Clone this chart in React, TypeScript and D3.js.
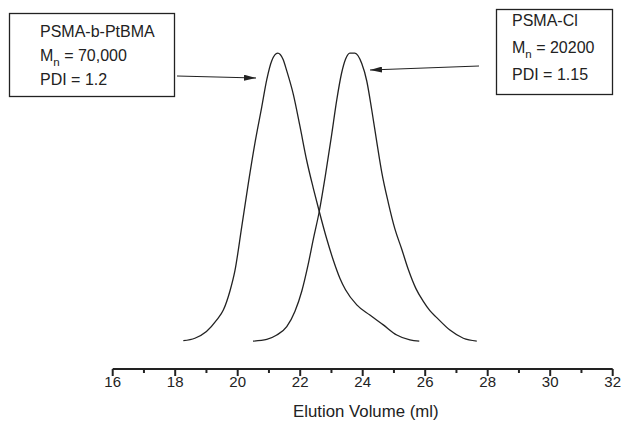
import React from 'react'
import * as d3 from 'd3'

// elution volume (ml) and detector response (arbitrary, peak ~100)
const blockVolume = [18.26, 18.63, 19.0, 19.33, 19.54, 19.75, 19.91, 20.13, 20.34, 20.55, 20.77, 20.93, 21.09, 21.28, 21.45, 21.57, 21.78, 21.99, 22.21, 22.42, 22.61, 22.85, 23.06, 23.27, 23.45, 23.81, 24.23, 24.66, 25.09, 25.51, 25.81]
const blockSignal = [0.45, 1.3, 3.6, 7.6, 11.0, 17.5, 24.5, 39.8, 54.7, 68.5, 81.1, 90.5, 97.0, 99.6, 97.5, 93.5, 85.4, 74.5, 62.5, 53, 45, 35.5, 28.2, 22, 18, 12.8, 9.3, 5.9, 2.4, 0.7, 0.3]

const macroVolume = [20.49, 20.93, 21.25, 21.57, 21.83, 22.05, 22.25, 22.42, 22.61, 22.8, 23.0, 23.17, 23.32, 23.45, 23.59, 23.75, 23.97, 24.13, 24.29, 24.45, 24.61, 24.82, 25.03, 25.25, 25.46, 25.7, 25.94, 26.15, 26.37, 26.79, 27.22, 27.65]
const macroSignal = [0.3, 0.9, 2.4, 5.3, 10.5, 17.5, 26.5, 35.5, 45, 57, 71, 83.5, 92.5, 97.5, 99.6, 99.6, 96, 90, 80, 69, 58.5, 48, 39, 32, 25, 18.5, 14, 10.8, 8.4, 4.1, 1.3, 0.3]

const majorTicks = [16, 18, 20, 22, 24, 26, 28, 30, 32]
const minorTicks = [17, 19, 21, 23, 25, 27, 29, 31]

const blockLabel = ['PSMA-b-PtBMA', '70,000', 'PDI = 1.2']
const macroLabel = ['PSMA-Cl', '20200', 'PDI = 1.15']

const W = 634
const H = 422
const font = '"Liberation Sans", Arial, sans-serif'
const ink = '#222'

export default function App() {
  const x = d3.scaleLinear().domain([16, 32]).range([112.7, 612.7])
  const y = d3.scaleLinear().domain([0, 100]).range([342, 52])
  const axisY = 369

  const line = d3.line<[number, number]>()
    .x(d => x(d[0]))
    .y(d => y(d[1]))
    .curve(d3.curveMonotoneX)

  const blockPts = blockVolume.map((v, i) => [v, blockSignal[i]] as [number, number])
  const macroPts = macroVolume.map((v, i) => [v, macroSignal[i]] as [number, number])

  const label = (lines: string[], tx: number, base: number[]) => (
    <g fill={ink} fontFamily={font} fontSize={16}>
      <text x={tx} y={base[0]}>{lines[0]}</text>
      <text x={tx} y={base[1]}>
        M<tspan fontSize={11.5} dy={4.5}>n</tspan><tspan dy={-4.5}> = {lines[1]}</tspan>
      </text>
      <text x={tx} y={base[2]}>{lines[2]}</text>
    </g>
  )

  return (
    <svg width={W} height={H} style={{ position: 'absolute', left: 0, top: 0, background: '#fff' }}>
      <defs>
        <marker id="arr" viewBox="0 0 12 6" refX="12" refY="3" markerWidth="12" markerHeight="6"
          markerUnits="userSpaceOnUse" orient="auto">
          <path d="M0,0 L12,3 L0,6 Z" fill={ink} />
        </marker>
      </defs>

      <path d={line(blockPts) || ''} fill="none" stroke={ink} strokeWidth={1.3} />
      <path d={line(macroPts) || ''} fill="none" stroke={ink} strokeWidth={1.3} />

      {/* x axis */}
      <line x1={x(16)} x2={x(32)} y1={axisY} y2={axisY} stroke={ink} strokeWidth={2.2} />
      {majorTicks.map(t => (
        <g key={t}>
          <line x1={x(t)} x2={x(t)} y1={axisY} y2={axisY + 7} stroke={ink} strokeWidth={2} />
          <text x={x(t)} y={387} textAnchor="middle" fontFamily={font} fontSize={15} fill={ink}>{t}</text>
        </g>
      ))}
      {minorTicks.map(t => (
        <line key={t} x1={x(t)} x2={x(t)} y1={axisY} y2={axisY + 4} stroke={ink} strokeWidth={2} />
      ))}
      <text x={x(24.1)} y={417} textAnchor="middle" fontFamily={font} fontSize={16.8} fill={ink}>Elution Volume (ml)</text>

      {/* annotation boxes */}
      <rect x={9.5} y={13.5} width={165} height={83} fill="none" stroke={ink} strokeWidth={1.3} />
      {label(blockLabel, 40, [37, 61, 85])}
      <line x1={177} y1={76} x2={256} y2={78} stroke={ink} strokeWidth={1.2} markerEnd="url(#arr)" />

      <rect x={496.5} y={9.5} width={116} height={85} fill="none" stroke={ink} strokeWidth={1.3} />
      {label(macroLabel, 512, [26, 53, 80])}
      <line x1={479} y1={66} x2={370} y2={70} stroke={ink} strokeWidth={1.2} markerEnd="url(#arr)" />
    </svg>
  )
}
